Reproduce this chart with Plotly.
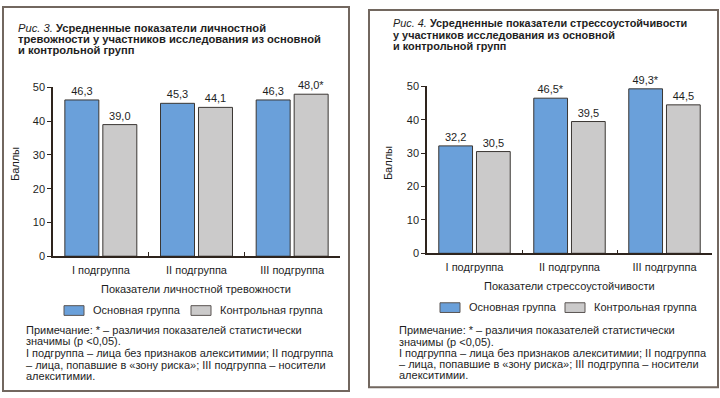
import plotly.graph_objects as go

W, H = 720, 398

# ---------------- data ----------------
categories = ["I подгруппа", "II подгруппа", "III подгруппа"]
series_names = ["Основная группа", "Контрольная группа"]

anxiety_main = [46.3, 45.3, 46.3]
anxiety_control = [39.0, 44.1, 48.0]
anxiety_main_sig = [False, False, False]
anxiety_control_sig = [False, False, True]

stress_main = [32.2, 46.5, 49.3]
stress_control = [30.5, 39.5, 44.5]
stress_main_sig = [False, True, True]
stress_control_sig = [False, False, False]

y_ticks = [0, 10, 20, 30, 40, 50]

title_left = ["Рис. 3.", "Усредненные показатели личностной",
              "тревожности у участников исследования из основной",
              "и контрольной групп"]
title_right = ["Рис. 4.", "Усредненные показатели стрессоустойчивости",
               "у участников исследования из основной",
               "и контрольной групп"]
xtitle_left = "Показатели личностной тревожности"
xtitle_right = "Показатели стрессоустойчивости"
ytitle = "Баллы"
note_lines = [
    "Примечание: * – различия показателей статистически",
    "значимы (р <0,05).",
    "I подгруппа – лица без признаков алекситимии; II подгруппа",
    "– лица, попавшие в «зону риска»; III подгруппа – носители",
    "алекситимии.",
]

# ---------------- style ----------------
FONT = "Liberation Sans, Arial, sans-serif"
BLUE = "#6aa0da"
GREY = "#cbcaca"
BAR_LINE = "#3a3633"
AXIS = "#2e241d"
BORDER = "#72675f"
TXT = "#1e1e1e"


def px(x):
    return x / W


def py(y):
    return 1 - y / H


def fmt(vals, sig):
    return [f"{v:.1f}".replace(".", ",") + ("*" if s else "") for v, s in zip(vals, sig)]


fig = go.Figure()

panels = [
    dict(xa="x", ya="y", main=anxiety_main, ctrl=anxiety_control,
         msig=anxiety_main_sig, csig=anxiety_control_sig),
    dict(xa="x2", ya="y2", main=stress_main, ctrl=stress_control,
         msig=stress_main_sig, csig=stress_control_sig),
]

for p in panels:
    for vals, sig, col, name in [(p["main"], p["msig"], BLUE, series_names[0]),
                                 (p["ctrl"], p["csig"], GREY, series_names[1])]:
        fig.add_trace(go.Bar(
            x=categories, y=vals, name=name, xaxis=p["xa"], yaxis=p["ya"],
            marker=dict(color=col, line=dict(color=BAR_LINE, width=1)),
            text=fmt(vals, sig), textposition="outside", constraintext="none",
            textfont=dict(family=FONT, size=11, color=TXT),
            cliponaxis=False, showlegend=False, hoverinfo="x+y",
        ))

axis_common_x = dict(showline=True, linecolor=AXIS, linewidth=1.5,
                     ticks="inside", tickson="boundaries", ticklen=4,
                     tickcolor=AXIS, tickwidth=1.2, showgrid=False, zeroline=False,
                     ticklabelstandoff=3,
                     tickfont=dict(family=FONT, size=11, color=TXT), fixedrange=True)
axis_common_y = dict(showline=True, linecolor=AXIS, linewidth=1.5,
                     ticks="outside", ticklen=4, tickcolor=AXIS, tickwidth=1.2,
                     range=[0, 50], tickvals=y_ticks, showgrid=False, zeroline=False,
                     tickfont=dict(family=FONT, size=11, color=TXT), fixedrange=True)

fig.update_layout(
    width=W, height=H,
    margin=dict(l=0, r=0, t=0, b=0),
    paper_bgcolor="white", plot_bgcolor="white",
    barmode="group", bargap=0.206, bargroupgap=0.105,
    font=dict(family=FONT, size=11, color=TXT),
    xaxis=dict(domain=[px(53), px(340)], anchor="y", **axis_common_x),
    yaxis=dict(domain=[py(258), py(84)], anchor="x", **axis_common_y),
    xaxis2=dict(domain=[px(427), px(712)], anchor="y2", **axis_common_x),
    yaxis2=dict(domain=[py(255), py(83)], anchor="x2", **axis_common_y),
)

shapes = []
annotations = []

# panel borders
shapes.append(dict(type="rect", xref="paper", yref="paper",
                   x0=px(3), x1=px(349), y0=py(397), y1=py(1),
                   line=dict(color=BORDER, width=2)))
shapes.append(dict(type="rect", xref="paper", yref="paper",
                   x0=px(369), x1=px(718), y0=py(393), y1=py(4),
                   line=dict(color=BORDER, width=2)))


def text(x, y, s, size=11, xanchor="left", angle=0, bold=False):
    annotations.append(dict(
        xref="paper", yref="paper", x=px(x), y=py(y), text=(f"<b>{s}</b>" if bold else s),
        showarrow=False, xanchor=xanchor, yanchor="middle", textangle=angle,
        font=dict(family=FONT, size=size, color=TXT)))


def title(x, y0, lines, dy, size):
    first = f"<i>{lines[0]}</i> <b>{lines[1]}</b>"
    text(x, y0, first, size=size)
    for i, ln in enumerate(lines[2:]):
        text(x, y0 + dy * (i + 1), ln, size=size, bold=True)


title(16, 22.5, title_left, 11.5, 11.2)
title(391, 18, title_right, 11.5, 10.9)

# axis titles
text(196, 292, xtitle_left, xanchor="center")
text(569, 289, xtitle_right, xanchor="center")
text(15, 163, ytitle, xanchor="center", angle=-90)
text(388, 162, ytitle, xanchor="center", angle=-90)


def legend(x_blue, x_grey, y, h=10):
    for x0, col, name in [(x_blue, BLUE, series_names[0]), (x_grey, GREY, series_names[1])]:
        shapes.append(dict(type="rect", xref="paper", yref="paper",
                           x0=px(x0), x1=px(x0 + 20), y0=py(y + h / 2), y1=py(y - h / 2),
                           fillcolor=col, line=dict(color="#5a5553", width=1)))
        text(x0 + 27, y - 0.5, name)


legend(64, 191, 314)
legend(440, 565, 311)

# notes
for i, ln in enumerate(note_lines):
    text(24, 334 + i * 11.9, ln)
    text(397, 334.5 + i * 11.6, ln)

fig.update_layout(shapes=shapes, annotations=annotations)

fig.write_html("out.html", config={"displayModeBar": False},
               post_script="document.body.style.margin='0';document.body.style.overflow='hidden';")
